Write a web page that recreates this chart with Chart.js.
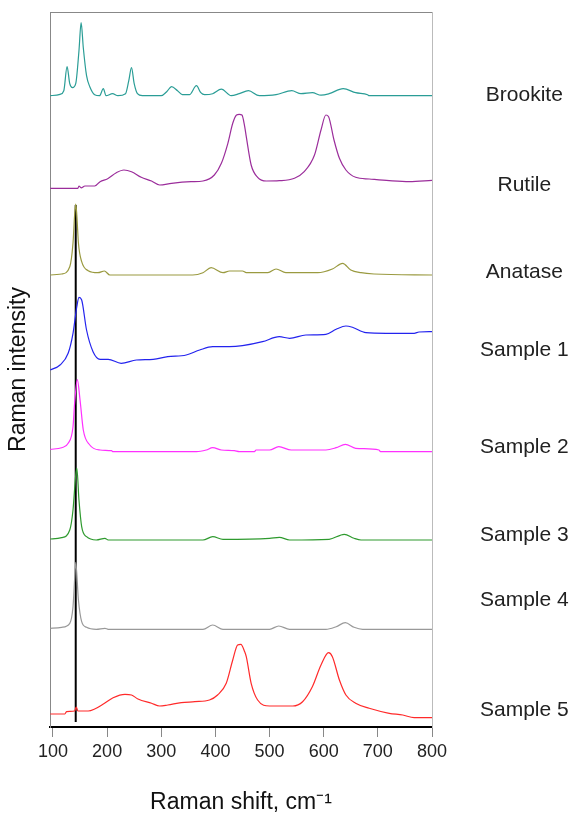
<!DOCTYPE html>
<html>
<head>
<meta charset="utf-8">
<script src="https://cdn.jsdelivr.net/npm/chart.js@4/dist/chart.umd.min.js"></script>
<style>
  body { margin: 0; background: #fff; }
</style>
</head>
<body>
<canvas id="ramanChart" width="570" height="816"></canvas>
<script>
// spectra as [Raman shift, intensity above own baseline]
const brookite = [[95,0],[113,1.4],[120,5],[126,29],[131,12],[136,8],[142,12],[148,45],[152,73],[156,48],[162,20],[168,9],[177,1],[186,0],[193,7],[198,0],[210,2],[220,0],[234,2],[240,15],[245,28],[250,12],[256,2],[265,0],[300,0],[310,4],[319,9],[330,5],[339,1],[352,1],[365,10],[373,3],[380,1],[395,2],[411,6.5],[429,0],[444,2],[461,5],[481,0],[512,1],[541,5],[558,2],[579,3],[595,0.5],[610,2],[636,7],[659,3],[681,1],[684,0],[800,0]];
const rutile = [[95,0],[146,0],[148,2.3],[152,0.5],[159,2.3],[177,2.3],[187,6.6],[201,9.6],[217,15.6],[231,18.3],[245,16.6],[263,11],[282,7.3],[297,3.3],[319,5],[355,6.6],[377,7.3],[398,13.3],[411,25],[423,45],[432,65],[439,73.3],[444,74],[449,73.3],[454,62],[457,51.6],[466,23.3],[478,11],[494,7.3],[518,7.6],[546,10],[564,16.6],[583,33.3],[595,58.3],[604,73.3],[609,71.6],[619,48.3],[629,30],[641,18.3],[659,11],[684,9.3],[721,7.6],[758,6.6],[800,8]];
const anatase = [[95,0],[116,1],[131,8.3],[137,32],[140,60],[142,71],[144,60],[147,32],[153,13.3],[165,4.3],[183,2.3],[195,4],[205,0],[358,0],[377,2.3],[392,7.3],[414,2.3],[426,4],[450,4],[457,2.3],[497,2.3],[512,6],[530,2.3],[589,2.3],[616,6],[635,11.7],[650,5],[669,2.3],[693,1],[800,0]];
const sample1 = [[95,0],[113,5],[128,16.7],[137,36.7],[144,63.3],[148,72.7],[153,70],[162,40],[174,18.3],[187,10.7],[202,10.7],[226,6.7],[254,10],[285,10.7],[312,13.3],[346,15],[371,20],[395,23.3],[426,23.3],[450,24.3],[487,28.3],[518,33.3],[537,31.7],[567,35],[604,35.7],[623,40.7],[641,44],[653,42.7],[678,37.3],[715,36.7],[767,36.7],[776,38],[800,38.3]];
const sample2 = [[95,2.4],[116,4],[128,8.4],[137,25],[140,48.7],[145,72],[150,51.7],[156,21.7],[168,6.7],[187,1.7],[208,1],[211,0],[365,0],[383,1.7],[395,4],[411,1.7],[435,1],[444,0],[472,0],[475,1.7],[500,1.7],[517,5],[540,1.7],[604,1.7],[623,4],[640,7.4],[659,3.4],[702,1.7],[705,0],[800,0]];
const sample3 = [[95,1],[116,2.3],[131,10],[137,30],[142,65],[144,72],[148,40],[153,13.3],[162,3.3],[180,0],[196,1.7],[202,0],[377,0],[395,3.3],[414,0.7],[500,1.7],[518,2.7],[537,0],[610,0.7],[638,5.7],[656,1.7],[669,0],[800,0]];
const sample4 = [[95,1],[116,2],[131,6],[137,22.6],[140,50],[142,67],[147,29.3],[153,7.6],[162,2],[180,0],[196,1],[202,0],[377,0],[395,4.3],[414,0],[500,0],[517,3.3],[537,0],[604,0],[623,2.6],[640,6.6],[656,2],[672,0],[800,0]];
const sample5 = [[95,4],[122,4],[125,6.3],[140,7],[143,11],[146,7],[165,7],[177,9],[193,14],[211,20.3],[233,23.7],[245,23],[257,19],[282,14.7],[297,12],[312,13],[337,15.3],[362,16.3],[389,18],[404,23],[420,34.7],[432,58],[441,73],[447,73.7],[454,66.3],[457,61.3],[466,34.7],[478,18],[500,12],[543,12],[561,16.3],[579,31.3],[595,53],[609,65.3],[616,61.3],[629,38],[641,23],[659,14.7],[684,9.7],[721,4.7],[746,3],[767,0.3],[800,0.3]];

const names = ['Brookite', 'Rutile', 'Anatase', 'Sample 1', 'Sample 2', 'Sample 3', 'Sample 4', 'Sample 5'];
const spectra = [brookite, rutile, anatase, sample1, sample2, sample3, sample4, sample5];
const offsets = [631.3, 538.7, 452, 357, 275.3, 187, 97.7, 9];
const colors = ['#2a9d96', '#9b2d9b', '#9a9a40', '#2323ee', '#ff30ff', '#2e9a2e', '#999999', '#ff2a2a'];
const labelPositions = [632, 542, 455, 377, 280, 192, 127, 17];
const xTicks = [100, 200, 300, 400, 500, 600, 700, 800];
const markerShift = 142;
const markerRange = [5, 522];

const datasets = spectra.map((s, i) => ({
  label: names[i],
  data: s.map(p => ({ x: p[0], y: p[1] + offsets[i] })),
  borderColor: colors[i],
  borderWidth: 1.2,
  pointRadius: 0,
  cubicInterpolationMode: 'monotone',
  fill: false
}));
datasets.push({
  label: 'marker',
  data: markerRange.map(v => ({ x: markerShift, y: v })),
  borderColor: '#000',
  borderWidth: 2,
  pointRadius: 0
});

const ctx = document.getElementById('ramanChart');
new Chart(ctx, {
  type: 'line',
  data: { datasets: datasets },
  options: {
    responsive: false,
    animation: false,
    layout: { padding: 0 },
    plugins: { legend: { display: false }, tooltip: { enabled: false } },
    scales: {
      x: {
        type: 'linear',
        position: 'bottom',
        min: 94.5,
        max: 800,
        afterBuildTicks: s => { s.ticks = xTicks.map(v => ({ value: v })); },
        afterFit: s => { s.height = 89; },
        border: { color: '#000', width: 2 },
        grid: { drawOnChartArea: false, drawTicks: true, tickLength: 10, color: '#888' },
        ticks: { padding: 4, color: '#222', font: { family: 'Liberation Sans', size: 18 } },
        title: { display: true, text: 'Raman shift, cm\u207B\u00B9', color: '#111', padding: { top: 0, bottom: 0 }, font: { family: 'Liberation Sans', size: 23 } }
      },
      xTop: {
        type: 'linear',
        position: 'top',
        min: 94.5,
        max: 800,
        afterFit: s => { s.height = 12; },
        border: { color: '#888', width: 1 },
        grid: { display: false },
        ticks: { display: false }
      },
      y: {
        type: 'linear',
        position: 'left',
        min: 0,
        max: 715,
        afterFit: s => { s.width = 50; },
        border: { color: '#888', width: 1 },
        grid: { display: false },
        ticks: { display: false },
        title: { display: true, text: 'Raman intensity', color: '#111', padding: { top: 5, bottom: 0 }, font: { family: 'Liberation Sans', size: 23 } }
      },
      yNames: {
        type: 'linear',
        position: 'right',
        min: 0,
        max: 715,
        afterBuildTicks: s => { s.ticks = labelPositions.map(v => ({ value: v })); },
        afterFit: s => { s.width = 138; s.paddingTop = 0; s.paddingBottom = 0; },
        border: { color: '#bbb', width: 1 },
        grid: { display: false },
        ticks: {
          autoSkip: false,
          crossAlign: 'center',
          padding: 40,
          color: '#222',
          font: { family: 'Liberation Sans', size: 21 },
          callback: (v, i) => names[i]
        }
      }
    }
  }
});
</script>
</body>
</html>
